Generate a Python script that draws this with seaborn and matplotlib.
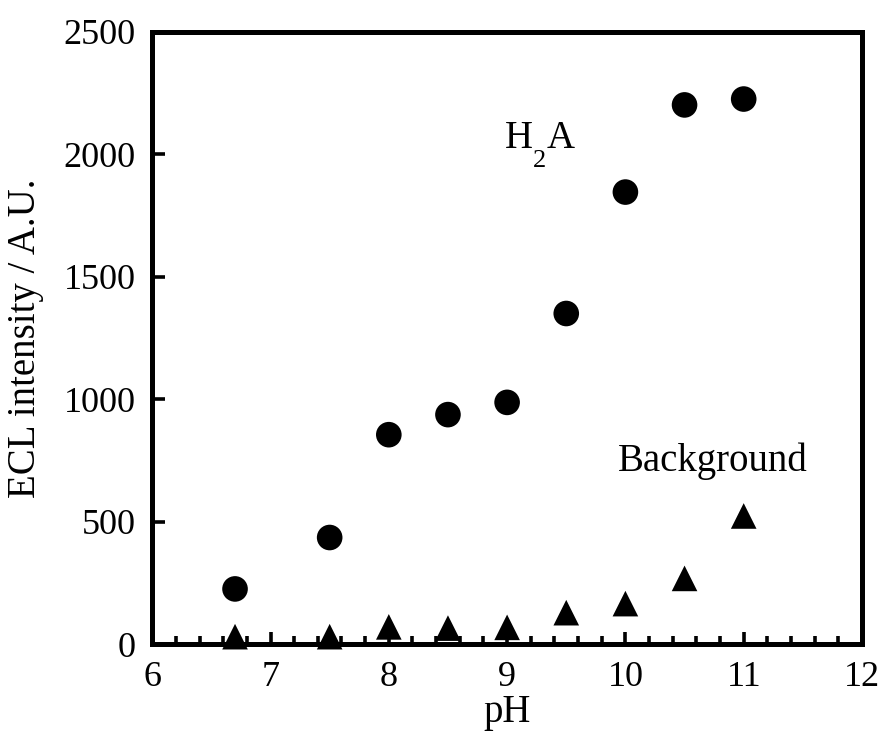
import matplotlib
matplotlib.use("Agg")
import matplotlib.pyplot as plt
from matplotlib.ticker import MultipleLocator
import seaborn as sns
import pandas as pd

ph = [6.7, 7.5, 8.0, 8.5, 9.0, 9.5, 10.0, 10.5, 11.0]
h2a = [225, 435, 855, 937, 987, 1350, 1846, 2202, 2226]
background = [30, 30, 70, 65, 68, 128, 165, 268, 523]

sns.set_theme(style="white")
plt.rcParams["font.family"] = ["Liberation Serif", "DejaVu Serif"]
plt.rcParams["text.color"] = "black"
plt.rcParams["axes.labelcolor"] = "black"
plt.rcParams["xtick.color"] = "black"
plt.rcParams["ytick.color"] = "black"

df = pd.DataFrame({"pH": ph, "H2A": h2a, "Background": background})

fig = plt.figure(figsize=(8.85, 7.33), dpi=100)
ax = fig.add_axes([0.172, 0.1214, 0.802, 0.8350])

sns.scatterplot(data=df, x="pH", y="H2A", ax=ax, color="black", marker="o",
                s=340, edgecolor="none", zorder=5, clip_on=False)
sns.scatterplot(data=df, x="pH", y="Background", ax=ax, color="black", marker="^",
                s=340, edgecolor="none", zorder=5, clip_on=False)

ax.set_xlim(6, 12)
ax.set_ylim(0, 2500)
ax.xaxis.set_major_locator(MultipleLocator(1))
ax.xaxis.set_minor_locator(MultipleLocator(0.2))
ax.yaxis.set_major_locator(MultipleLocator(500))

for sp in ax.spines.values():
    sp.set_linewidth(3.6)
    sp.set_color("black")

ax.tick_params(axis="both", which="major", direction="in", length=9, width=2.6,
               labelsize=26, colors="black", top=False, right=False,
               bottom=True, left=True, pad=12)
ax.tick_params(axis="x", which="minor", direction="in", length=5.5, width=2.6,
               top=False, bottom=True)

ax.set_xlabel("pH", fontsize=28, labelpad=0)
ax.set_ylabel("ECL intensity / A.U.", fontsize=28, labelpad=14)

# H2A label with a deeply lowered subscript
ax.text(8.98, 2026, "H", fontsize=28, ha="left", va="baseline")
ax.annotate("2", xy=(8.98, 2026), xytext=(20.5, -14), textcoords="offset points",
            fontsize=19, ha="left", va="baseline")
ax.annotate("A", xy=(8.98, 2026), xytext=(30.5, 0), textcoords="offset points",
            fontsize=28, ha="left", va="baseline")

ax.text(9.94, 707, "Background", fontsize=28, ha="left", va="baseline")

fig.savefig("out.png", dpi=100)
